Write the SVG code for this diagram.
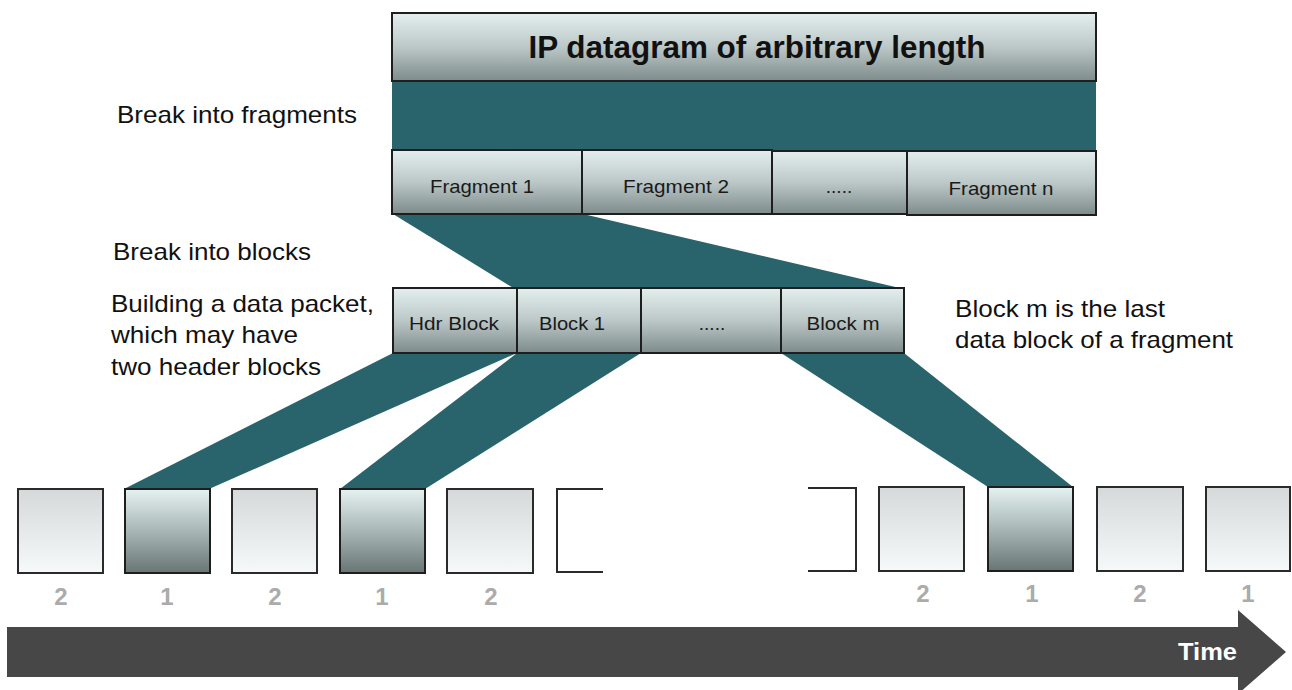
<svg xmlns="http://www.w3.org/2000/svg" width="1292" height="690" viewBox="0 0 1292 690">
<defs>
<linearGradient id="gBar" x1="0" y1="0" x2="0" y2="1">
<stop offset="0" stop-color="#e4eeee"/>
<stop offset="0.5" stop-color="#bcc8c8"/>
<stop offset="1" stop-color="#7e8b8b"/>
</linearGradient>
<linearGradient id="gLight" x1="0" y1="0" x2="0" y2="1">
<stop offset="0" stop-color="#d5d9d9"/>
<stop offset="1" stop-color="#f5f9f9"/>
</linearGradient>
<linearGradient id="gDark" x1="0" y1="0" x2="0" y2="1">
<stop offset="0" stop-color="#e6f2f2"/>
<stop offset="0.5" stop-color="#a8b6b6"/>
<stop offset="1" stop-color="#687575"/>
</linearGradient>
<style>
.bar{fill:url(#gBar);stroke:#1e1e1e;stroke-width:2}
.light{fill:url(#gLight);stroke:#2a2a2a;stroke-width:2}
.dark{fill:url(#gDark);stroke:#1e1e1e;stroke-width:2}
.band{fill:#29646c}
.lbl{font-family:"Liberation Sans",Arial,sans-serif;font-size:19px;fill:#1a1a1a;text-anchor:middle}
.side{font-family:"Liberation Sans",Arial,sans-serif;font-size:24px;fill:#111}
.num{font-family:"Liberation Sans",Arial,sans-serif;font-size:24px;font-weight:bold;fill:#ababab;text-anchor:middle}
.bracket{fill:none;stroke:#2a2a2a;stroke-width:2}
</style>
</defs>
<rect width="1292" height="690" fill="#ffffff"/>

<g id="connectors">
<rect class="band" x="392" y="80" width="704" height="70"/>
<polygon class="band" points="393,214 583,214 904,289 515,289"/>
<polygon class="band" points="393,353 517,353 209,489 124,489"/>
<polygon class="band" points="517,353 641,353 425,489 340,489"/>
<polygon class="band" points="781,353 904,353 1073,487 988,487"/>
</g>

<g id="ip-datagram">
<rect class="bar" x="392" y="13" width="704" height="68"/>
<text x="757" y="58" font-family="Liberation Sans,Arial,sans-serif" font-size="32" font-weight="bold" fill="#111" text-anchor="middle" textLength="457" lengthAdjust="spacingAndGlyphs">IP datagram of arbitrary length</text>
</g>

<g id="fragments">
<g id="fragment-1"><rect class="bar" x="392" y="150" width="190" height="64"/><text class="lbl" x="482" y="193" textLength="104" lengthAdjust="spacingAndGlyphs">Fragment 1</text></g>
<g id="fragment-2"><rect class="bar" x="582" y="150" width="190" height="64"/><text class="lbl" x="676" y="193" textLength="106" lengthAdjust="spacingAndGlyphs">Fragment 2</text></g>
<g id="fragment-dots"><rect class="bar" x="772" y="151" width="135" height="63"/><text class="lbl" x="839" y="193">.....</text></g>
<g id="fragment-n"><rect class="bar" x="907" y="151" width="189" height="64"/><text class="lbl" x="1001" y="195" textLength="105" lengthAdjust="spacingAndGlyphs">Fragment n</text></g>
</g>

<g id="blocks">
<g id="hdr-block"><rect class="bar" x="393" y="288" width="124" height="65"/><text class="lbl" x="454" y="330" textLength="90" lengthAdjust="spacingAndGlyphs">Hdr Block</text></g>
<g id="block-1"><rect class="bar" x="517" y="288" width="124" height="65"/><text class="lbl" x="572" y="330" textLength="66" lengthAdjust="spacingAndGlyphs">Block 1</text></g>
<g id="block-dots"><rect class="bar" x="641" y="288" width="140" height="65"/><text class="lbl" x="712" y="330">.....</text></g>
<g id="block-m"><rect class="bar" x="781" y="288" width="123" height="65"/><text class="lbl" x="843" y="330" textLength="73" lengthAdjust="spacingAndGlyphs">Block m</text></g>
</g>

<g id="labels">
<text class="side" x="117" y="123" textLength="240" lengthAdjust="spacingAndGlyphs">Break into fragments</text>
<text class="side" x="113" y="260" textLength="198" lengthAdjust="spacingAndGlyphs">Break into blocks</text>
<text class="side" x="111" y="312" textLength="263" lengthAdjust="spacingAndGlyphs">Building a data packet,</text>
<text class="side" x="111" y="343" textLength="187" lengthAdjust="spacingAndGlyphs">which may have</text>
<text class="side" x="111" y="375" textLength="210" lengthAdjust="spacingAndGlyphs">two header blocks</text>
<text class="side" x="955" y="317" textLength="210" lengthAdjust="spacingAndGlyphs">Block m is the last</text>
<text class="side" x="955" y="348" textLength="278" lengthAdjust="spacingAndGlyphs">data block of a fragment</text>
</g>

<g id="slots">
<g id="slot-1"><rect class="light" x="18" y="489" width="85" height="84"/><text class="num" x="61" y="605">2</text></g>
<g id="slot-2"><rect class="dark" x="125" y="489" width="85" height="84"/><text class="num" x="167" y="605">1</text></g>
<g id="slot-3"><rect class="light" x="232" y="489" width="85" height="84"/><text class="num" x="275" y="605">2</text></g>
<g id="slot-4"><rect class="dark" x="340" y="489" width="85" height="84"/><text class="num" x="382" y="605">1</text></g>
<g id="slot-5"><rect class="light" x="447" y="489" width="86" height="84"/><text class="num" x="491" y="605">2</text></g>
<g id="slot-6"><path class="bracket" d="M603,489 H557 V572 H603"/></g>
<g id="slot-7"><path class="bracket" d="M808,488 H856 V571 H808"/></g>
<g id="slot-8"><rect class="light" x="879" y="487" width="85" height="84"/><text class="num" x="923" y="602">2</text></g>
<g id="slot-9"><rect class="dark" x="988" y="487" width="85" height="84"/><text class="num" x="1032" y="602">1</text></g>
<g id="slot-10"><rect class="light" x="1097" y="487" width="86" height="84"/><text class="num" x="1140" y="602">2</text></g>
<g id="slot-11"><rect class="light" x="1206" y="487" width="84" height="84"/><text class="num" x="1248" y="602">1</text></g>
</g>

<g id="time-arrow">
<polygon fill="#474747" points="7,627 1238,627 1238,610 1286,652 1238,694 1238,677 7,677"/>
<text x="1237" y="660" font-family="Liberation Sans,Arial,sans-serif" font-size="24" font-weight="bold" fill="#ffffff" text-anchor="end" textLength="59" lengthAdjust="spacingAndGlyphs">Time</text>
</g>
</svg>
